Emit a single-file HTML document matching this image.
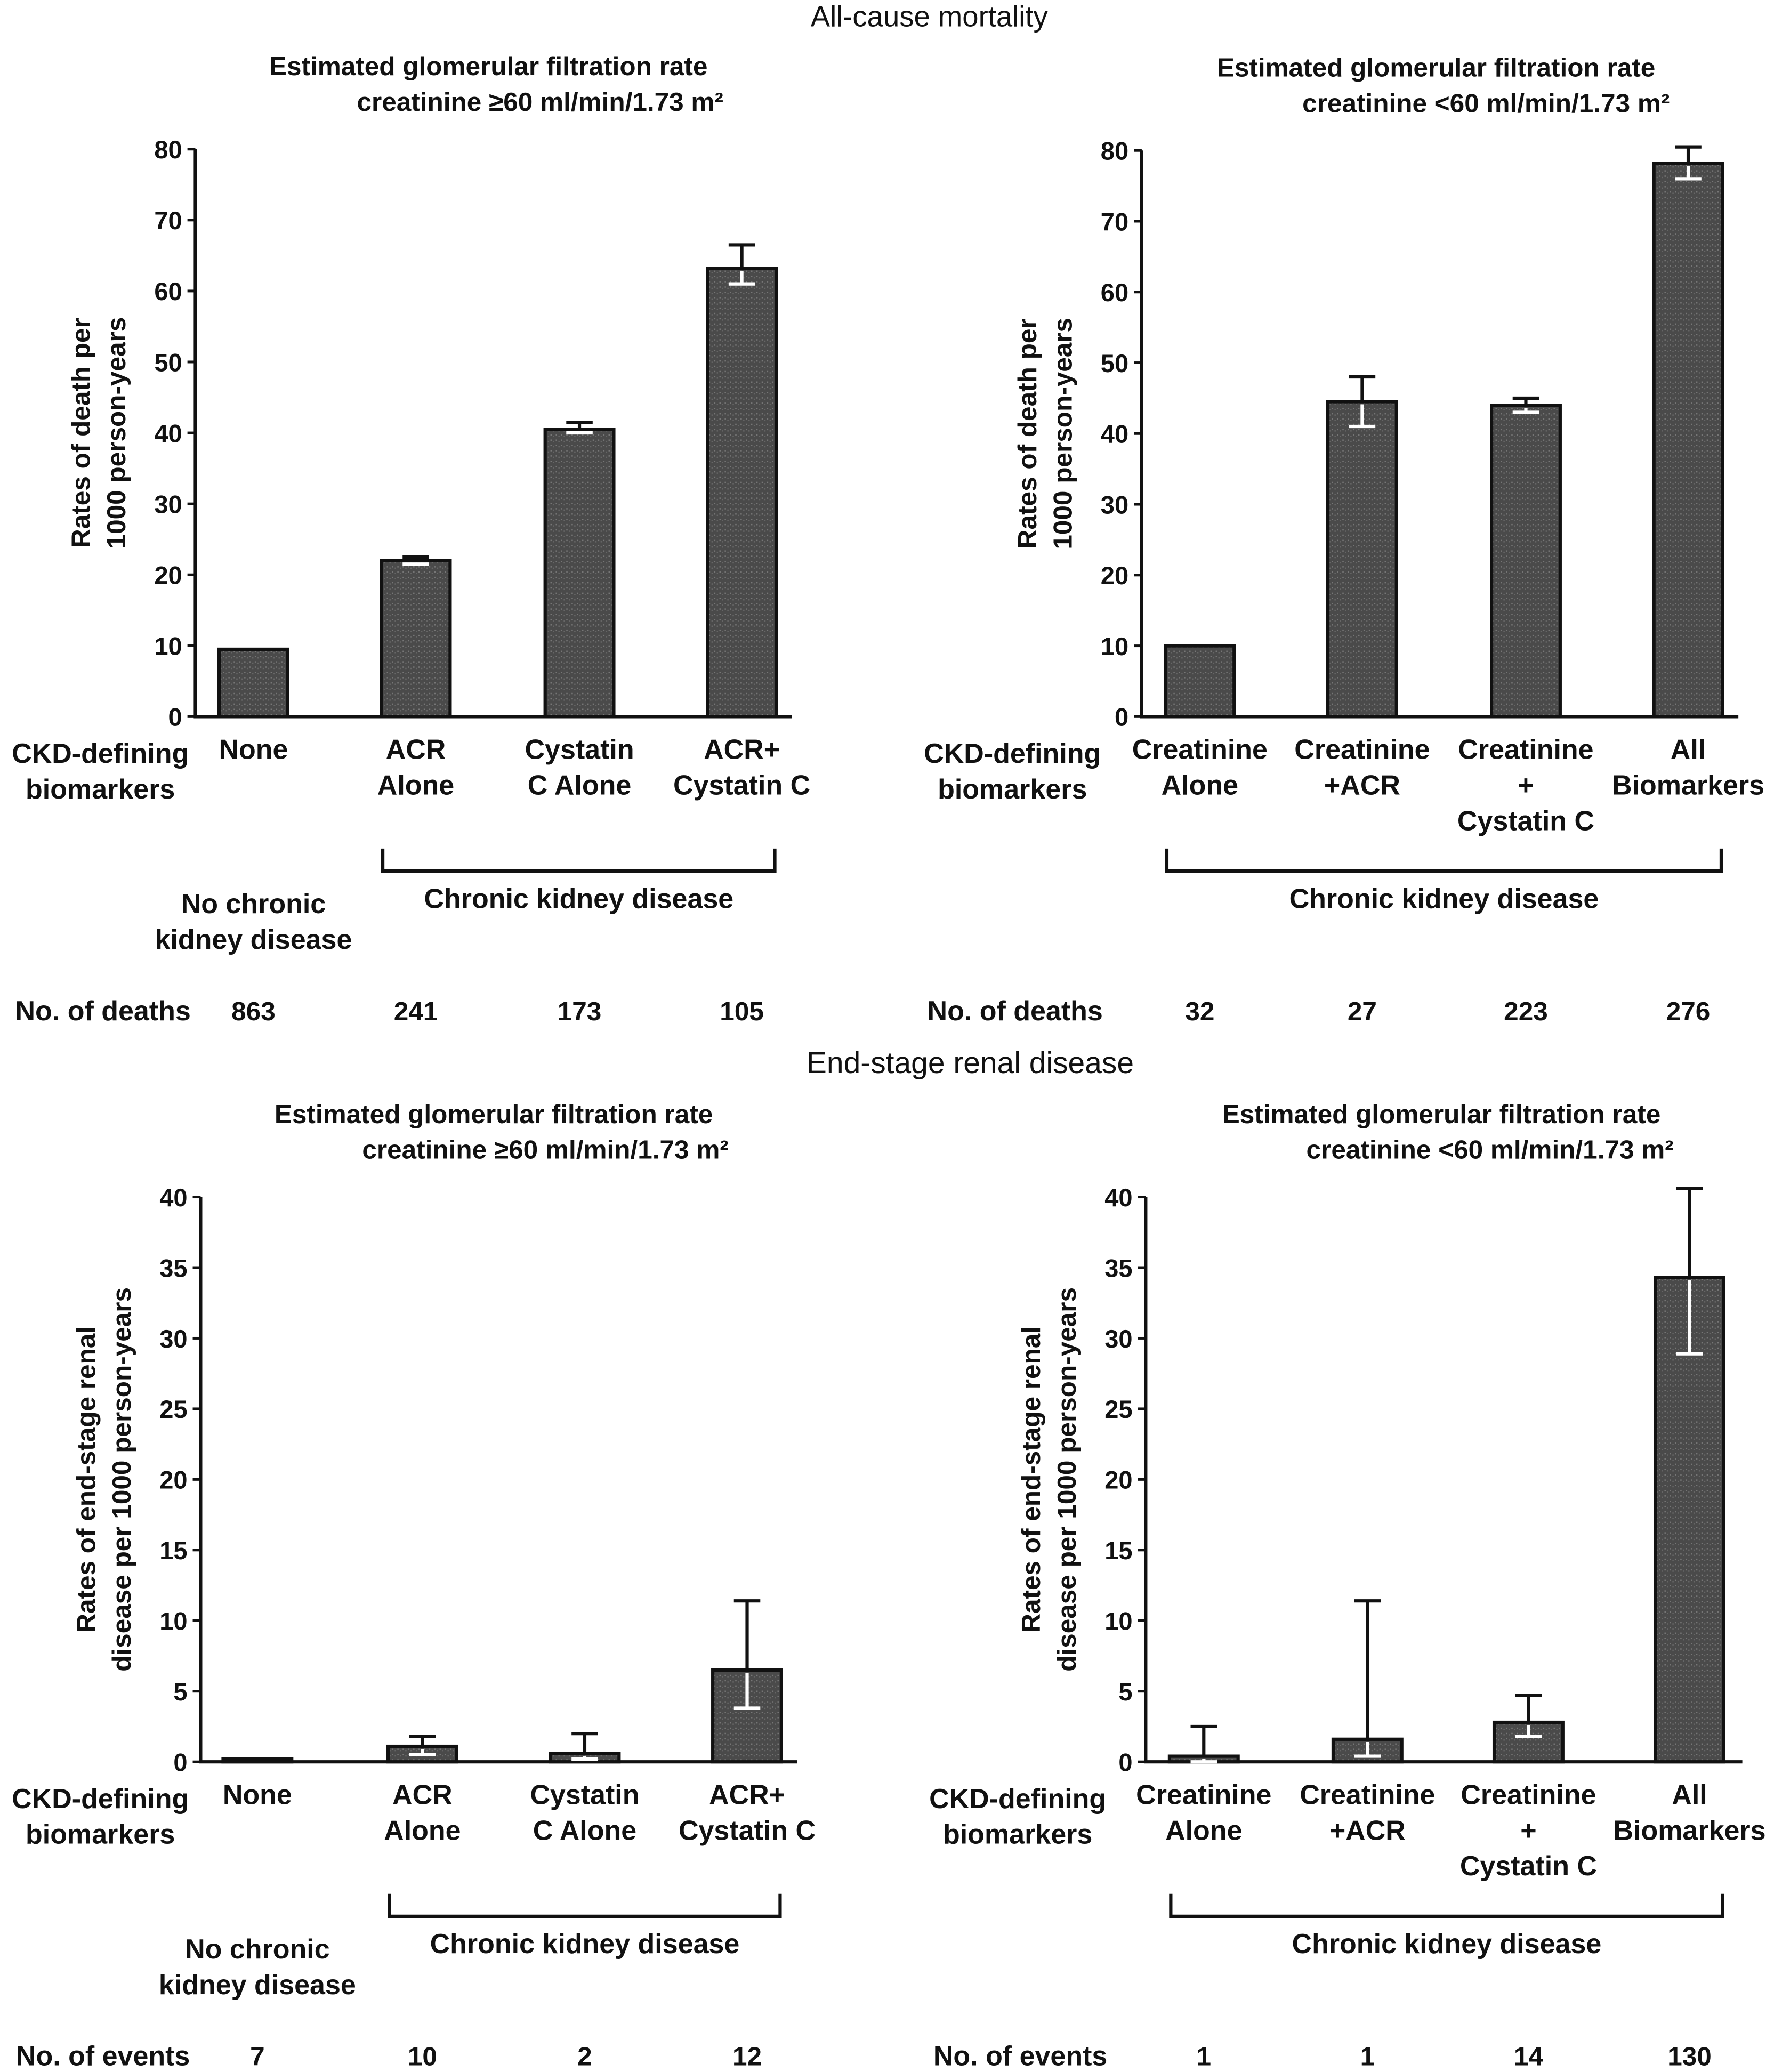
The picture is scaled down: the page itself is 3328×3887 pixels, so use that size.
<!DOCTYPE html>
<html><head><meta charset="utf-8"><style>
html,body{margin:0;padding:0;background:#fff}
svg{display:block}
text{font-family:"Liberation Sans",sans-serif;fill:#111}
.b{font-weight:bold}
</style></head><body>
<svg id="s" width="3328" height="3887" viewBox="0 0 1344 1570" preserveAspectRatio="none" xmlns="http://www.w3.org/2000/svg">
<defs><pattern id="st" width="4" height="4" patternUnits="userSpaceOnUse"><rect width="4" height="4" fill="#4a4a4a"/><rect x="1" y="1" width="1" height="1" fill="#777"/><rect x="3" y="2" width="1" height="1" fill="#666"/></pattern></defs>
<text x="704" y="20" font-size="22" text-anchor="middle">All-cause mortality</text>
<text x="735" y="813" font-size="23" text-anchor="middle">End-stage renal disease</text>
</svg>
<script>
const cats1=["None","ACR|Alone","Cystatin|C Alone","ACR+|Cystatin C"];
const cats2=["Creatinine|Alone","Creatinine|+ACR","Creatinine|+|Cystatin C","All|Biomarkers"];
const vals1=[9.5,22,40.5,63.2];
const hi1=[null,22.5,41.5,66.5];
const lo1=[null,21.5,40,61];
const vals2=[10,44.5,44,78.2];
const hi2=[null,48,45,80.5];
const lo2=[null,41,43,76];
const vals3=[0.2,1.1,0.6,6.5];
const hi3=[null,1.8,2,11.4];
const lo3=[null,0.5,0.2,3.8];
const vals4=[0.4,1.6,2.8,34.3];
const hi4=[2.5,11.4,4.7,40.6];
const lo4=[0,0.4,1.8,28.9];
const ticks1=[0,10,20,30,40,50,60,70,80];
const ticks2=[0,5,10,15,20,25,30,35,40];
const counts1=["863","241","173","105"];
const counts2=["32","27","223","276"];
const counts3=["7","10","2","12"];
const counts4=["1","1","14","130"];
const S=document.getElementById('s');
const NS="http://www.w3.org/2000/svg";
function mk(tag,at,txt){const e=document.createElementNS(NS,tag);for(const k in at)e.setAttribute(k,at[k]);if(txt!==undefined)e.textContent=txt;S.appendChild(e);return e;}
function panel(p){
  const y=v=>p.y0-(v/p.max)*(p.y0-p.ytop);
  const ax=mk('path',{d:`M${p.ax} ${p.ytop} V${p.y0} H${p.ax+452}`,stroke:'#111','stroke-width':2.5,fill:'none'});
  
  
  p.ticks.forEach(t=>{
    const l=mk('line',{x1:p.ax-6,x2:p.ax,y1:y(t),y2:y(t),stroke:'#111','stroke-width':2});
    
    
    const tx=mk('text',{x:p.ax-10,y:y(t)+7,'font-size':19,'text-anchor':'end',class:'b'},t);
    
    
  });
  p.vals.forEach((v,i)=>{
    const c=p.cx[i];
    const r=mk('rect',{x:c-26,y:y(v),width:52,height:p.y0-y(v),fill:'url(#st)',stroke:'#111','stroke-width':2.5});
    
    
    if(p.hi[i]!=null){
      const e=mk('path',{d:`M${c} ${y(v)} V${y(p.hi[i])} M${c-10} ${y(p.hi[i])} H${c+10}`,stroke:'#111','stroke-width':2.5,fill:'none'});
      
      
      const w=mk('path',{d:`M${c} ${y(v)+2} V${y(p.lo[i])} M${c-10} ${y(p.lo[i])} H${c+10}`,stroke:'#fff','stroke-width':2.5,fill:'none'});
      
      
    }
    p.cats[i].split('|').forEach((s,j)=>{
      const t=mk('text',{x:c,y:p.y0+32+j*27,'font-size':21,'text-anchor':'middle',class:'b'},s);
      
      
    });
    const n=mk('text',{x:c,y:p.y0+230,'font-size':20,'text-anchor':'middle',class:'b'},p.counts[i]);
    
    
  });
  const t1=mk('text',{x:p.tx,y:p.ytop-56,'font-size':20,'text-anchor':'middle',class:'b'},'Estimated glomerular filtration rate');
  
  
  const t2=mk('text',{x:p.tx2,y:p.ytop-29,'font-size':20,'text-anchor':'end',class:'b'},p.sub);
  
  
  p.ylab.forEach((s,j)=>{
    const t=mk('text',{x:0,y:0,'font-size':20,'text-anchor':'middle',class:'b',transform:`translate(${p.ax-80+j*27},${(p.ytop+p.y0)/2}) rotate(-90)`},s);
    
    
  });
  ['CKD-defining','biomarkers'].forEach((s,j)=>{
    const t=mk('text',{x:p.ckx,y:p.y0+35+j*27,'font-size':21,'text-anchor':'middle',class:'b'},s);
    
    
  });
  const bx1=p.cx[p.b0]-25,bx2=p.cx[3]+25,by=p.y0+117;
  const br=mk('path',{d:`M${bx1} ${by-17} V${by} H${bx2} V${by-17}`,stroke:'#111','stroke-width':2.5,fill:'none'});
  
  
  const ck=mk('text',{x:(bx1+bx2)/2,y:by+28,'font-size':21,'text-anchor':'middle',class:'b'},'Chronic kidney disease');
  
  
  if(p.b0===1){['No chronic','kidney disease'].forEach((s,j)=>{
    const t=mk('text',{x:p.cx[0],y:p.y0+149+j*27,'font-size':21,'text-anchor':'middle',class:'b'},s);
    
    
  });}
  const nl=mk('text',{x:p.ckx+2,y:p.y0+230,'font-size':21,'text-anchor':'middle',class:'b'},p.nlab);
  
  
}
const ylab1=['Rates of death per','1000 person-years'];
const ylab2=['Rates of end-stage renal','disease per 1000 person-years'];
panel({id:'p1',ax:148,y0:543,ytop:113,max:80,ticks:ticks1,vals:vals1,hi:hi1,lo:lo1,cx:[192,315,439,562],cats:cats1,counts:counts1,tx:370,tx2:548,sub:'creatinine ≥60 ml/min/1.73 m²',ylab:ylab1,ckx:76,b0:1,nlab:'No. of deaths'});
panel({id:'p2',ax:865,y0:543,ytop:114,max:80,ticks:ticks1,vals:vals2,hi:hi2,lo:lo2,cx:[909,1032,1156,1279],cats:cats2,counts:counts2,tx:1088,tx2:1265,sub:'creatinine <60 ml/min/1.73 m²',ylab:ylab1,ckx:767,b0:0,nlab:'No. of deaths'});
panel({id:'p3',ax:152,y0:1335,ytop:907,max:40,ticks:ticks2,vals:vals3,hi:hi3,lo:lo3,cx:[195,320,443,566],cats:cats1,counts:counts3,tx:374,tx2:552,sub:'creatinine ≥60 ml/min/1.73 m²',ylab:ylab2,ckx:76,b0:1,nlab:'No. of events'});
panel({id:'p4',ax:868,y0:1335,ytop:907,max:40,ticks:ticks2,vals:vals4,hi:hi4,lo:lo4,cx:[912,1036,1158,1280],cats:cats2,counts:counts4,tx:1092,tx2:1268,sub:'creatinine <60 ml/min/1.73 m²',ylab:ylab2,ckx:771,b0:0,nlab:'No. of events'});
</script>
</body></html>
